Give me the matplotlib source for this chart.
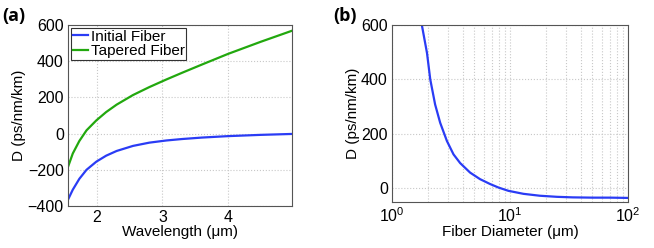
import numpy as np
import matplotlib
matplotlib.use("Agg")
import matplotlib.pyplot as plt
from matplotlib.ticker import LogLocator, NullFormatter

# Panel (a) data
wl = [1.557, 1.63, 1.73, 1.84, 1.99, 2.14, 2.30, 2.55, 2.80, 3.06, 3.3, 3.6, 4.0, 4.5, 4.97]
d_initial = [-365, -310, -250, -200, -155, -122, -96, -68, -50, -38, -30, -22, -14, -7, -2]
d_tapered = [-184, -110, -41, 18, 73, 119, 160, 213, 257, 299, 336, 381, 440, 507, 567]

# Panel (b) data
diam = [1.79, 1.98, 2.11, 2.32, 2.56, 2.92, 3.32, 3.78, 4.59, 5.57, 6.78, 8.0, 9.7, 13, 17.9, 25, 34, 50, 70, 100]
d_diam = [600, 497, 400, 308, 241, 174, 125, 93, 58, 34, 16, 3, -9, -20, -27, -31, -33, -34, -34, -35]

plt.rcParams['font.family'] = ['Liberation Sans', 'DejaVu Sans']
fig = plt.figure(figsize=(6.54, 2.48), dpi=100)
W, H = 654, 248

def add_ax(l, t, r, b):
    return fig.add_axes([l / W, 1 - b / H, (r - l) / W, (b - t) / H])

blue = '#2a3cf5'
green = '#22a80e'
grid_kw = dict(color='#c8c8c8', linestyle=':', linewidth=0.8)
TICK = 11.5
LAB = 11

ax1 = add_ax(68, 25, 292, 206)
ax1.plot(wl, d_initial, color=blue, lw=1.6, label='Initial Fiber')
ax1.plot(wl, d_tapered, color=green, lw=1.6, label='Tapered Fiber')
ax1.set_xlim(1.557, 4.98)
ax1.set_ylim(-400, 600)
ax1.set_xticks([2, 3, 4])
ax1.set_yticks([-400, -200, 0, 200, 400, 600])
ax1.set_yticklabels(['\u2212400', '\u2212200', '0', '200', '400', '600'])
ax1.grid(True, **grid_kw)
ax1.set_xlabel('Wavelength (\u03bcm)', fontsize=LAB, labelpad=0)
ax1.set_ylabel('D (ps/nm/km)', fontsize=LAB, labelpad=1)
leg = ax1.legend(loc='upper left', fontsize=LAB, handlelength=1.0, handletextpad=0.2,
                 borderpad=0.1, labelspacing=0.05, borderaxespad=0.2, fancybox=False,
                 framealpha=1)
leg.get_frame().set_edgecolor('#333333')
leg.get_frame().set_linewidth(0.8)

ax2 = add_ax(392, 25, 628, 202)
ax2.plot(diam, d_diam, color=blue, lw=1.6)
ax2.set_xscale('log')
ax2.set_xlim(1, 100)
ax2.set_ylim(-50, 600)
ax2.set_yticks([0, 200, 400, 600])
ax2.xaxis.set_minor_locator(LogLocator(base=10, subs=np.arange(2, 10)))
ax2.xaxis.set_minor_formatter(NullFormatter())
ax2.grid(True, which='major', **grid_kw)
ax2.grid(True, which='minor', axis='x', **grid_kw)
ax2.set_xlabel('Fiber Diameter (\u03bcm)', fontsize=LAB, labelpad=0)
ax2.set_ylabel('D (ps/nm/km)', fontsize=LAB, labelpad=1)

for ax in (ax1, ax2):
    ax.tick_params(axis='both', which='both', direction='in', length=0, labelsize=TICK, pad=3)
    for s in ax.spines.values():
        s.set_color('#555555')
        s.set_linewidth(0.8)

fig.text(2 / W, 1 - 16 / H, '(a)', fontsize=13, fontweight='bold', family=['Open Sans', 'DejaVu Sans'], va='center')
fig.text(333 / W, 1 - 16 / H, '(b)', fontsize=13, fontweight='bold', family=['Open Sans', 'DejaVu Sans'], va='center')

fig.savefig('out.png', dpi=100)
